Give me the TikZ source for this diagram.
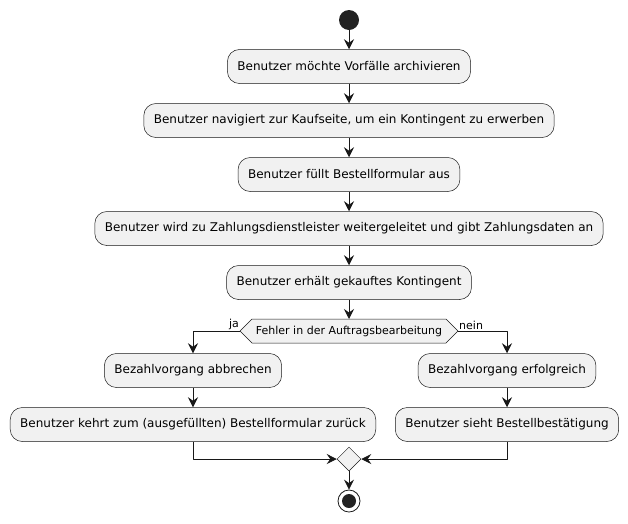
\documentclass[tikz,border=0pt]{standalone}
\usepackage{fontspec}
\setmainfont{DejaVu Sans}
\usetikzlibrary{arrows.meta,shapes.geometric}

\definecolor{linec}{HTML}{181818}
\definecolor{actfill}{HTML}{F1F1F1}
\definecolor{dotc}{HTML}{222222}

\tikzset{
	act/.style={draw=linec, fill=actfill, rounded corners=12, minimum height=34, inner xsep=10, line width=0.5, font=\fontsize{12}{14}\selectfont},
	flow/.style={draw=linec, line width=0.8, -{Stealth[length=10, width=10, inset=3.5]}},
	lbl/.style={inner sep=1, font=\fontsize{11}{13}\selectfont},
}

\begin{document}
\begin{tikzpicture}[x=1pt, y=-1pt, line join=round]
	\useasboundingbox (0,0) rectangle (628,523);
	
	% start
	\node[circle, fill=dotc, minimum size=20, inner sep=0] (start) at (349,20) {};
	
	% main line
	\node[act] (a1) at (349,66.5) {Benutzer möchte Vorfälle archivieren};
	\node[act] (a2) at (349,120.5) {Benutzer navigiert zur Kaufseite, um ein Kontingent zu erwerben};
	\node[act] (a3) at (349,174.5) {Benutzer füllt Bestellformular aus};
	\node[act] (a4) at (349,228.5) {Benutzer wird zu Zahlungsdienstleister weitergeleitet und gibt Zahlungsdaten an};
	\node[act] (a5) at (349,282.5) {Benutzer erhält gekauftes Kontingent};
	
	% decision
	\coordinate (dl) at (240,331);
	\coordinate (dr) at (458,331);
	\coordinate (dt) at (349,319);
	\filldraw[draw=linec, fill=actfill, line width=0.5] (dl) -- (252,319) -- (446,319) -- (dr) -- (446,343) -- (252,343) -- cycle;
	\node[lbl] (dtext) at (349,331) {Fehler in der Auftragsbearbeitung};
	\node[lbl, anchor=south east] (ja) at (dl) {ja};
	\node[lbl, anchor=south west] (nein) at (dr) {nein};
	
	% branches
	\node[act] (b1) at (193,370.5) {Bezahlvorgang abbrechen};
	\node[act] (b2) at (507,370.5) {Bezahlvorgang erfolgreich};
	\node[act] (c1) at (193,424.5) {Benutzer kehrt zum (ausgefüllten) Bestellformular zurück};
	\node[act] (c2) at (507,424.5) {Benutzer sieht Bestellbestätigung};
	
	% merge and stop
	\node[diamond, draw=linec, fill=actfill, line width=0.5, minimum size=24, inner sep=0] (merge) at (349,459) {};
	\node[circle, draw=linec, fill=white, line width=0.8, minimum size=22, inner sep=0] (stop) at (349,501) {};
	\fill[dotc] (stop.center) circle (7);
	
	\draw[flow] (start) -- (a1);
	\draw[flow] (a1) -- (a2);
	\draw[flow] (a2) -- (a3);
	\draw[flow] (a3) -- (a4);
	\draw[flow] (a4) -- (a5);
	\draw[flow] (a5) -- (dt);
	\draw[flow] (dl) -| (b1);
	\draw[flow] (dr) -| (b2);
	\draw[flow] (b1) -- (c1);
	\draw[flow] (b2) -- (c2);
	\draw[flow] (c1) |- (merge);
	\draw[flow] (c2) |- (merge);
	\draw[flow] (merge) -- (stop);
	
\end{tikzpicture}
\end{document}
